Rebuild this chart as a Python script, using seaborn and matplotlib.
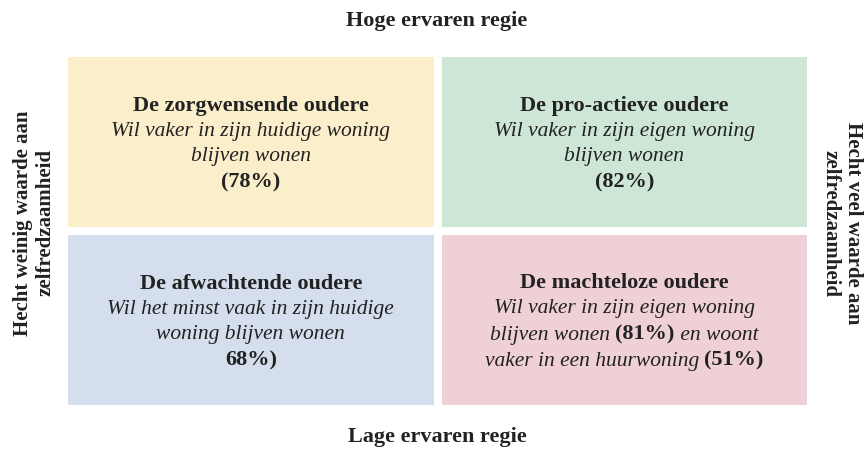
import matplotlib
matplotlib.use("Agg")
import matplotlib.pyplot as plt
import seaborn as sns
import numpy as np
from matplotlib.colors import ListedColormap
from matplotlib.offsetbox import TextArea, HPacker, VPacker, AnnotationBbox

sns.set_theme(style="white")
plt.rcParams['font.family'] = ['Liberation Serif', 'DejaVu Serif']

# ---- data ----
top_label = "Hoge ervaren regie"
bottom_label = "Lage ervaren regie"
left_label = "Hecht weinig waarde aan\nzelfredzaamheid"
right_label = "Hecht veel waarde aan\nzelfredzaamheid"

cell_codes = [[0, 1], [2, 3]]
cell_colors = ["#FBEECB", "#CDE6D6", "#D4DEEC", "#EFD0D7"]

titles = ["De zorgwensende oudere", "De pro-actieve oudere",
          "De afwachtende oudere", "De machteloze oudere"]
pct_tl = "(78%)"
pct_tr = "(82%)"
pct_bl = "68%)"
pct_br1 = "(81%)"
pct_br2 = "(51%)"

# lines: list of (text, style) segments; 'b' bold, 'i' italic
cell_lines = [
    [[(titles[0], 'b')], [("Wil vaker in zijn huidige woning", 'i')],
     [("blijven wonen", 'i')], [(pct_tl, 'b')]],
    [[(titles[1], 'b')], [("Wil vaker in zijn eigen woning", 'i')],
     [("blijven wonen", 'i')], [(pct_tr, 'b')]],
    [[(titles[2], 'b')], [("Wil het minst vaak in zijn huidige", 'i')],
     [("woning blijven wonen", 'i')], [(pct_bl, 'b')]],
    [[(titles[3], 'b')], [("Wil vaker in zijn eigen woning", 'i')],
     [("blijven wonen ", 'i'), (pct_br1, 'b'), (" en woont", 'i')],
     [("vaker in een huurwoning ", 'i'), (pct_br2, 'b')]],
]

# ---- figure ----
fig = plt.figure(figsize=(8.68, 4.51), dpi=100)
W, H = 868, 451
gap_px = 8.0
half = gap_px / 2
left_b, right_b = 68 - half, 807 + half
top_b, bot_b = 57 - half, 405 + half
ax = fig.add_axes([left_b / W, (H - bot_b) / H, (right_b - left_b) / W, (bot_b - top_b) / H])

sns.heatmap(np.array(cell_codes), cmap=ListedColormap(cell_colors), vmin=-0.5, vmax=3.5,
            cbar=False, linewidths=gap_px * 72 / 100, linecolor="white", ax=ax,
            xticklabels=False, yticklabels=False)
ax.set_xlabel("")
ax.set_ylabel("")

txt_color = "#222222"
fp = {'b': dict(weight='bold', style='normal', size=16),
      'i': dict(weight='normal', style='italic', size=15.5)}

for idx, lines in enumerate(cell_lines):
    r, c = divmod(idx, 2)
    rows = []
    for line in lines:
        parts = [TextArea(t, textprops=dict(fontweight=fp[s]['weight'], fontstyle=fp[s]['style'],
                                             fontsize=fp[s]['size'], color=txt_color,
                                             family=['Liberation Serif', 'DejaVu Serif']))
                 for t, s in line]
        rows.append(HPacker(children=parts, align="baseline", pad=0, sep=0))
    box = VPacker(children=rows, align="center", pad=0, sep=4.5)
    ab = AnnotationBbox(box, (c + 0.5, r + 0.5), xycoords='data', frameon=False,
                        box_alignment=(0.5, 0.52))
    ax.add_artist(ab)

lab = dict(fontsize=16, fontweight='bold', color=txt_color, ha='center', va='center',
           linespacing=1.1)
fig.text(437 / W, 1 - 21 / H, top_label, **lab)
fig.text(437 / W, 1 - 437 / H, bottom_label, **lab)
side = dict(lab, fontsize=15, linespacing=1.15)
fig.text(34 / W, 1 - 223 / H, left_label, rotation=90, **side)
fig.text(842 / W, 1 - 223 / H, right_label, rotation=270, **side)

fig.savefig("out.png", dpi=100, facecolor="white")
